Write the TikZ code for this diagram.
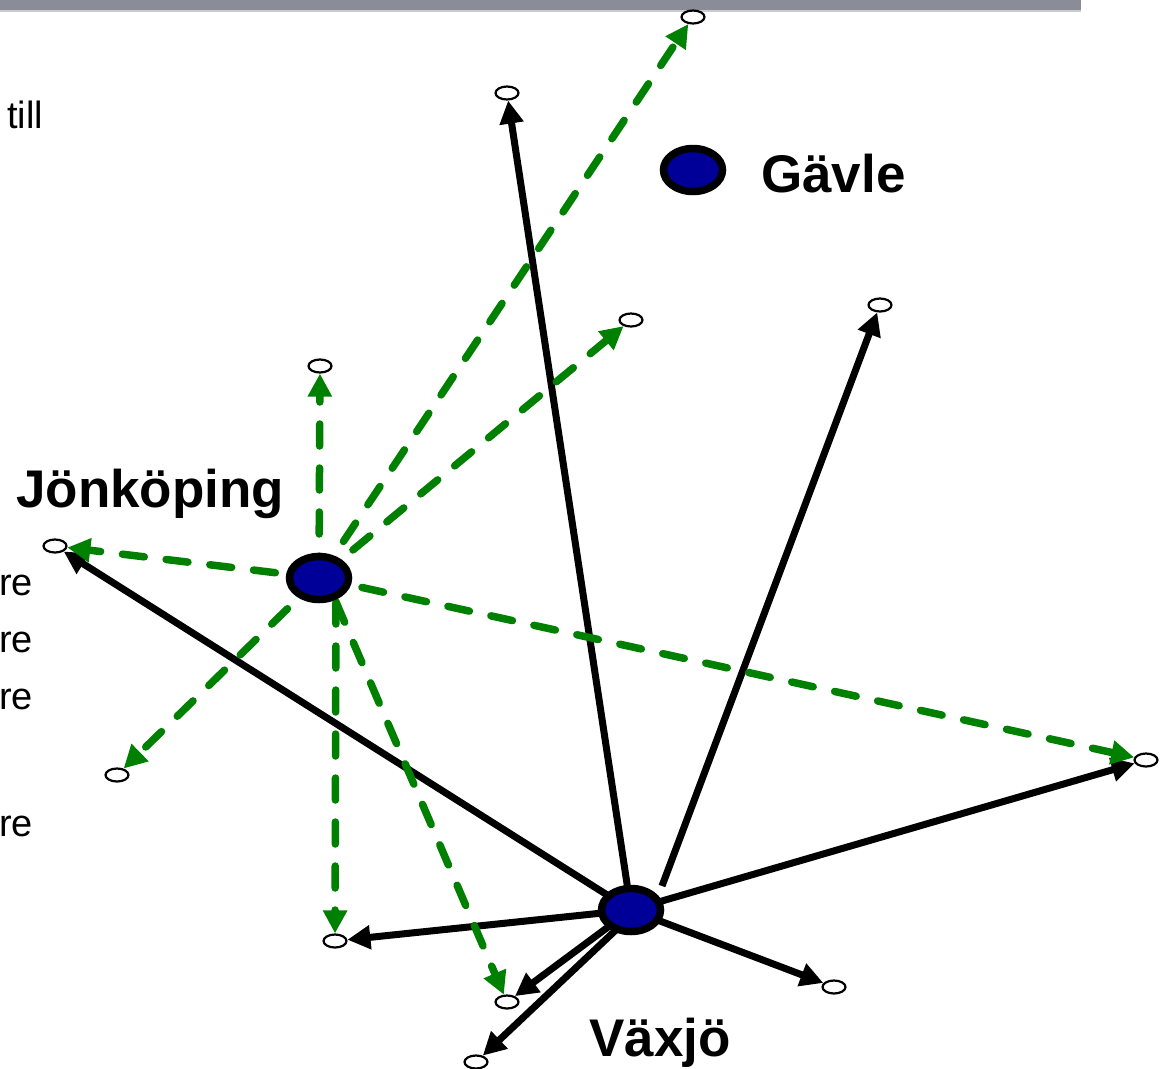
\documentclass[tikz,border=0pt]{standalone}
\usepackage{fontspec}
\setmainfont{Liberation Sans}
\usepackage{tikz}
\usetikzlibrary{arrows.meta,shapes.geometric}

\definecolor{barGray}{HTML}{8A8C98}
\definecolor{barLine}{HTML}{C9CBD1}
\definecolor{cityBlue}{HTML}{000099}
\definecolor{routeGreen}{HTML}{008000}

\begin{document}
\begin{tikzpicture}[x=1pt,y=-1pt,
	city/.style={ellipse, draw=black, line width=7.5pt, fill=cityBlue, minimum width=59pt, minimum height=43pt, inner sep=0pt},
	spot/.style={ellipse, draw=black, line width=2.2pt, fill=white, minimum width=23pt, minimum height=13pt, inner sep=0pt},
	road/.style={line width=7pt, black, -{Triangle[length=23pt,width=23pt]}},
	flight/.style={line width=7.5pt, routeGreen, line cap=round, dash pattern=on 22pt off 22pt, -{Triangle[length=23pt,width=23pt]}},
	cityname/.style={font=\fontsize{53}{60}\selectfont\bfseries, inner sep=0pt},
	side/.style={font=\fontsize{38}{46}\selectfont, inner sep=0pt}]

	\useasboundingbox (0,0) rectangle (1171,1069);

	\fill[barGray] (0,0) rectangle (1081,10);
	\fill[barLine] (0,10) rectangle (1081,12);

	\node[side, anchor=base west] (till) at (7,128) {till};
	\foreach \n/\y in {a/595,b/652,c/709,d/836}
		\node[side, anchor=base west] (re\n) at (-1,\y) {re};

	\node[spot] (s1) at (693,17) {};
	\node[spot] (s2) at (507,93) {};
	\node[spot] (s3) at (880,305) {};
	\node[spot] (s4) at (631,320) {};
	\node[spot] (s5) at (320,366) {};
	\node[spot] (s6) at (55,546) {};
	\node[spot] (s7) at (117,775) {};
	\node[spot] (s8) at (1146,760) {};
	\node[spot] (s9) at (335,941) {};
	\node[spot] (s10) at (507,1002) {};
	\node[spot] (s11) at (834,987) {};
	\node[spot] (s12) at (476,1062) {};

	\coordinate (jfoot) at (336,602);
	\coordinate (vtop) at (662,886);
	\coordinate (vfoot) at (618,928);

	\foreach \t in {s2,s6,s8,s9,s10,s11}
		\draw[road] (631,910) -- (\t);
	\draw[road] (vtop) -- (s3);
	\draw[road] (vfoot) -- (s12);

	\foreach \t in {s1,s4,s5,s6,s7,s8}
		\draw[flight] (319,578) -- (\t);
	\foreach \t in {s9,s10}
		\draw[flight] (jfoot) -- (\t);

	\node[city] (gaevle) at (693,170) {};
	\node[city] (joenkoeping) at (319,578) {};
	\node[city] (vaexjoe) at (631,910) {};

	\node[cityname, anchor=base west] (gaevleName) at (761,192) {Gävle};
	\node[cityname, anchor=base west] (joenkoepingName) at (16,507) {Jönköping};
	\node[cityname, anchor=base west] (vaexjoeName) at (589,1056) {Växjö};

\end{tikzpicture}
\end{document}
